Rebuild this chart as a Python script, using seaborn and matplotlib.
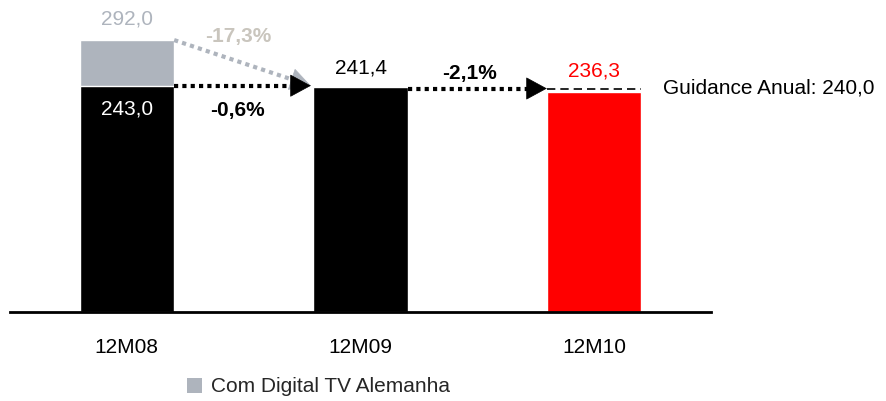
import matplotlib
matplotlib.use("Agg")
import matplotlib.pyplot as plt
import seaborn as sns
import pandas as pd
import numpy as np
from matplotlib.patches import Patch

# ---- data ----
categories = ["12M08", "12M09", "12M10"]
base_values = [243.0, 241.4, 236.3]
with_digital = [292.0, np.nan, np.nan]
changes_base = ["-0,6%", "-2,1%"]
change_digital = "-17,3%"
guidance = 240.0
guidance_label = "Guidance Anual: 240,0"
legend_label = "Com Digital TV Alemanha"

sns.set_theme(style="white")
plt.rcParams["font.family"] = ["Liberation Sans", "DejaVu Sans"]

GRAY = "#aeb4bd"
LGRAY = "#c9c5bd"
RED = "#ff0000"
FS = 15

fig = plt.figure(figsize=(8.86, 4.01), dpi=100)
ax = fig.add_axes([10 / 886, (401 - 312) / 401, 701 / 886, 298 / 401])

df_base = pd.DataFrame({"cat": categories, "val": base_values})
df_dig = pd.DataFrame({"cat": categories, "val": with_digital})
W = 0.405

sns.barplot(data=df_dig, x="cat", y="val", color=GRAY, width=W, ax=ax,
            order=categories, saturation=1, errorbar=None)
sns.barplot(data=df_base, x="cat", y="val", hue="cat", width=W, ax=ax,
            order=categories, hue_order=categories,
            palette=["black", "black", RED], saturation=1, legend=False,
            errorbar=None)

ax.set_xlim(-0.5, 2.5)
ax.set_ylim(0, 320)
ax.set_xlabel("")
ax.set_ylabel("")
ax.set_yticks([])
for s in ["top", "left", "right"]:
    ax.spines[s].set_visible(False)
ax.spines["bottom"].set_color("black")
ax.spines["bottom"].set_linewidth(2.0)
ax.tick_params(axis="x", length=0, pad=19, labelsize=FS, labelcolor="black")

half = W / 2

# value labels
ax.text(0, with_digital[0] + 12, f"{with_digital[0]:.1f}".replace(".", ","),
        ha="center", va="bottom", color=GRAY, fontsize=FS)
ax.text(0, base_values[0] - 25, f"{base_values[0]:.1f}".replace(".", ","),
        ha="center", va="center", color="white", fontsize=FS)
ax.text(1, base_values[1] + 10, f"{base_values[1]:.1f}".replace(".", ","),
        ha="center", va="bottom", color="black", fontsize=FS)
ax.text(2, base_values[2] + 12, f"{base_values[2]:.1f}".replace(".", ","),
        ha="center", va="bottom", color=RED, fontsize=FS)

# change labels
ax.text(0.475, 296, change_digital, ha="center", va="center", color=LGRAY,
        fontsize=FS, fontweight="bold")
ax.text(0.475, 216, changes_base[0], ha="center", va="center", color="black",
        fontsize=FS, fontweight="bold")
ax.text(1.465, 256, changes_base[1], ha="center", va="center", color="black",
        fontsize=FS, fontweight="bold")


def dotted_arrow(x0, y0, x1, y1, color):
    # dotted shaft, then solid head at the end
    hl = 0.06  # head length in x-data units
    frac = hl / (x1 - x0)
    xs = x1 - (x1 - x0) * frac
    ys = y1 - (y1 - y0) * frac
    ax.plot([x0, xs], [y0, ys], color=color, lw=3, linestyle=(0, (1, 1)),
            solid_capstyle="butt", dash_capstyle="butt")
    ax.annotate("", xy=(x1, y1), xytext=(xs, ys),
                arrowprops=dict(arrowstyle="-|>,head_length=0.7,head_width=0.38",
                                color=color, lw=0.5, mutation_scale=20,
                                shrinkA=0, shrinkB=0))


dotted_arrow(half, with_digital[0], 1 - half - 0.01, base_values[1] + 1.5, GRAY)
dotted_arrow(half, base_values[0], 1 - half - 0.01, base_values[0], "black")
dotted_arrow(1 + half, guidance, 2 - half, guidance, "black")

# guidance dashed line
ax.plot([2 - half, 2 + half], [guidance, guidance], color="black", lw=1.2,
        linestyle=(0, (5, 3)))
ax.text(2 + half + 0.09, guidance, guidance_label, ha="left", va="center",
        color="black", fontsize=FS, clip_on=False)

# legend
fig.legend(handles=[Patch(facecolor=GRAY, edgecolor="none", label=legend_label)],
           loc="center left", bbox_to_anchor=(187 / 886, 1 - 387 / 401),
           frameon=False, fontsize=FS, handlelength=0.7, handleheight=0.7,
           handletextpad=0.45, borderpad=0, borderaxespad=0)

fig.savefig("out.png", dpi=100)
